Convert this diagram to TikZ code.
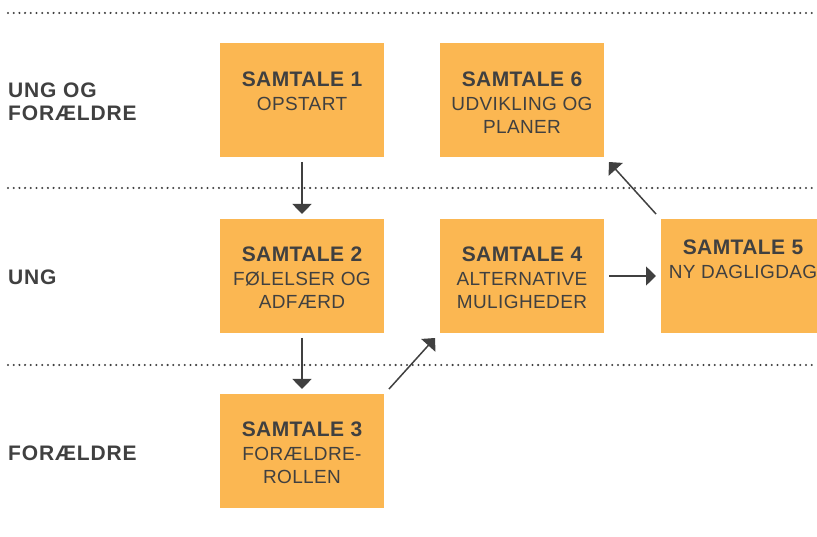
\documentclass[tikz,border=0pt]{standalone}
\usepackage{fontspec}
\setmainfont{Liberation Sans}
\usetikzlibrary{arrows.meta}
\definecolor{boxorange}{RGB}{251,183,82}
\definecolor{ink}{RGB}{64,64,64}
\begin{document}
\begin{tikzpicture}[x=1pt,y=-1pt,
  box/.style={fill=boxorange, draw=none, minimum width=164pt, minimum height=114pt, inner sep=0pt, outer sep=5pt},
  txt/.style={anchor=north, inner sep=0pt, align=center, text=ink, font=\fontsize{19}{23.5}\selectfont\addfontfeatures{LetterSpace=2}},
  side/.style={anchor=north west, inner sep=0pt, align=left, text=ink, font=\fontsize{21}{23}\selectfont\bfseries\addfontfeatures{LetterSpace=4}},
  sep/.style={draw=ink, line width=2.3pt, line cap=round, dash pattern=on 0pt off 5.7pt},
  conn/.style={draw=ink, line width=1.5pt, -{Triangle[width=19pt,length=10pt]}}]
\useasboundingbox (0,0) rectangle (817,537);
\clip (0,0) rectangle (817,537);
\newcommand{\ttl}[1]{{\fontsize{21}{23.5}\selectfont\bfseries\addfontfeatures{LetterSpace=2}#1}}
% separators
\coordinate (s1a) at (8,13); \coordinate (s1b) at (817,13);
\coordinate (s2a) at (8,188); \coordinate (s2b) at (817,188);
\coordinate (s3a) at (8,365); \coordinate (s3b) at (817,365);
\draw[sep] (s1a) -- (s1b);
\draw[sep] (s2a) -- (s2b);
\draw[sep] (s3a) -- (s3b);
% side labels
\node[side] (l1) at (8,83) {UNG OG\\FORÆLDRE};
\node[side] (l2) at (8,270) {UNG};
\node[side] (l3) at (8,446) {FORÆLDRE};
% boxes
\node[box] (b1) at (302,100) {};
\node[box] (b6) at (522,100) {};
\node[box] (b2) at (302,276) {};
\node[box] (b4) at (522,276) {};
\node[box] (b5) at (743,276) {};
\node[box] (b3) at (302,451) {};
% texts
\node[txt] (t1) at (302,72) {\ttl{SAMTALE 1}\\OPSTART};
\node[txt] (t6) at (522,72) {\ttl{SAMTALE 6}\\UDVIKLING OG\\PLANER};
\node[txt] (t2) at (302,247) {\ttl{SAMTALE 2}\\FØLELSER OG\\ADFÆRD};
\node[txt] (t4) at (522,247) {\ttl{SAMTALE 4}\\ALTERNATIVE\\MULIGHEDER};
\node[txt] (t5) at (743,240) {\ttl{SAMTALE 5}\\NY DAGLIGDAG};
\node[txt] (t3) at (302,422) {\ttl{SAMTALE 3}\\FORÆLDRE-\\ROLLEN};
% connectors
\draw[conn] (b1.south) -- (b2.north);
\draw[conn] (b2.south) -- (b3.north);
\draw[conn] (b3.north east) -- (b4.south west);
\draw[conn] (b4.east) -- (b5.west);
\draw[conn] (b5.north west) -- (b6.south east);
\end{tikzpicture}
\end{document}
